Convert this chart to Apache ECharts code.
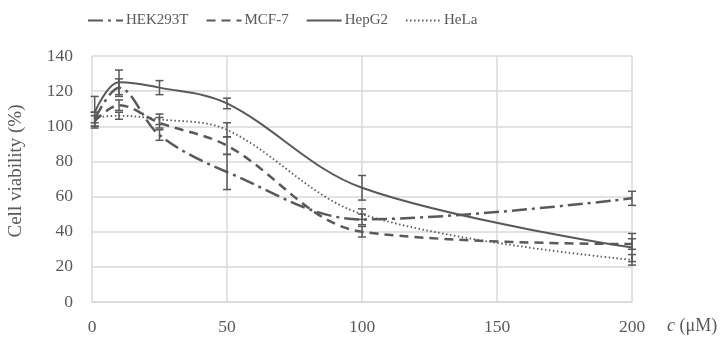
<!DOCTYPE html>
<html>
<head>
<meta charset="utf-8">
<script src="https://cdn.jsdelivr.net/npm/echarts@6/dist/echarts.min.js"></script>
<style>html,body{margin:0;padding:0;background:#fff}#c{width:723px;height:338px}</style>
</head>
<body>
<div id="c"></div>
<script>
var concentrations = [1, 10, 25, 50, 100, 200];
var seriesNames = ['HEK293T', 'MCF-7', 'HepG2', 'HeLa'];
var hek293t = [104, 122, 95, 74, 47, 59];
var hek293tErr = [4, 5, 3, 10, 3, 4];
var mcf7 = [103, 112, 102, 89, 40, 33];
var mcf7Err = [3, 3, 3, 5, 3, 3];
var hepg2 = [108, 125, 122, 113, 65, 31];
var hepg2Err = [9, 7, 4, 3, 7, 8];
var hela = [105, 106, 104, 98, 50, 24];
var helaErr = [3, 2, 3, 4, 3, 3];
var yTicks = [0, 20, 40, 60, 80, 100, 120, 140];
var xTicks = [0, 50, 100, 150, 200];

var values = [hek293t, mcf7, hepg2, hela];
var errs = [hek293tErr, mcf7Err, hepg2Err, helaErr];
var dashes = [[15, 5, 3, 5], [9, 6], 'solid', [1.5, 2.5]];
var widths = [2.5, 2.5, 2, 1.8];
var col = '#595959';
var font = '"Liberation Serif","DejaVu Serif",serif';
var fs = 17.5;

var series = [];
values.forEach(function (v, i) {
  series.push({
    name: seriesNames[i], type: 'line', smooth: 0.35, symbol: 'none',
    data: concentrations.map(function (c, k) { return [c, v[k]]; }),
    lineStyle: { color: col, width: widths[i], type: dashes[i] },
    itemStyle: { color: col }, z: 3
  });
});
values.forEach(function (v, i) {
  series.push({
    type: 'custom', silent: true, z: 4,
    data: concentrations.map(function (c, k) { return [c, v[k] - errs[i][k], v[k] + errs[i][k]]; }),
    encode: { x: 0, y: [1, 2] },
    renderItem: function (params, api) {
      var lo = api.coord([api.value(0), api.value(1)]);
      var hi = api.coord([api.value(0), api.value(2)]);
      var w = 4;
      var st = { stroke: col, lineWidth: 1.5 };
      return { type: 'group', children: [
        { type: 'line', shape: { x1: lo[0], y1: lo[1], x2: hi[0], y2: hi[1] }, style: st },
        { type: 'line', shape: { x1: lo[0] - w, y1: lo[1], x2: lo[0] + w, y2: lo[1] }, style: st },
        { type: 'line', shape: { x1: hi[0] - w, y1: hi[1], x2: hi[0] + w, y2: hi[1] }, style: st }
      ]};
    }
  });
});

var chart = echarts.init(document.getElementById('c'), null, { renderer: 'canvas' });
chart.setOption({
  animation: false,
  backgroundColor: '#fff',
  textStyle: { fontFamily: font },
  legend: {
    data: seriesNames, top: 8, left: 82, itemWidth: 35, itemHeight: 12, itemGap: 17,
    itemStyle: { opacity: 0 },
    textStyle: { color: col, fontSize: 15, fontFamily: font, padding: [0, 0, 0, -2] }
  },
  grid: { left: 92, right: 91, top: 56, bottom: 36, containLabel: false, outerBoundsMode: 'none' },
  xAxis: {
    type: 'value', min: xTicks[0], max: xTicks[xTicks.length - 1], interval: 50,
    name: '{i|c} (μM)', nameLocation: 'end', nameGap: 35,
    nameTextStyle: { color: col, fontSize: 18, fontFamily: font, verticalAlign: 'top', padding: [15, 0, 0, 0],
      rich: { i: { fontStyle: 'italic', color: col, fontSize: 18, fontFamily: font } } },
    axisLine: { show: true, lineStyle: { color: '#d9d9d9', width: 1.5 } },
    axisTick: { show: false },
    axisLabel: { color: col, fontSize: fs, margin: 16, fontFamily: font },
    splitLine: { show: true, lineStyle: { color: '#d9d9d9', width: 1.5 } }
  },
  yAxis: {
    type: 'value', min: yTicks[0], max: yTicks[yTicks.length - 1], interval: 20,
    name: 'Cell viability (%)', nameLocation: 'middle', nameGap: 66, nameRotate: 90,
    nameTextStyle: { color: col, fontSize: 19, fontFamily: font, padding: [0, 0, 0, 16] },
    axisLine: { show: false }, axisTick: { show: false },
    axisLabel: { color: col, fontSize: fs, margin: 19, fontFamily: font },
    splitLine: { lineStyle: { color: '#d9d9d9', width: 1.5 } }
  },
  series: series
});
</script>
</body>
</html>
